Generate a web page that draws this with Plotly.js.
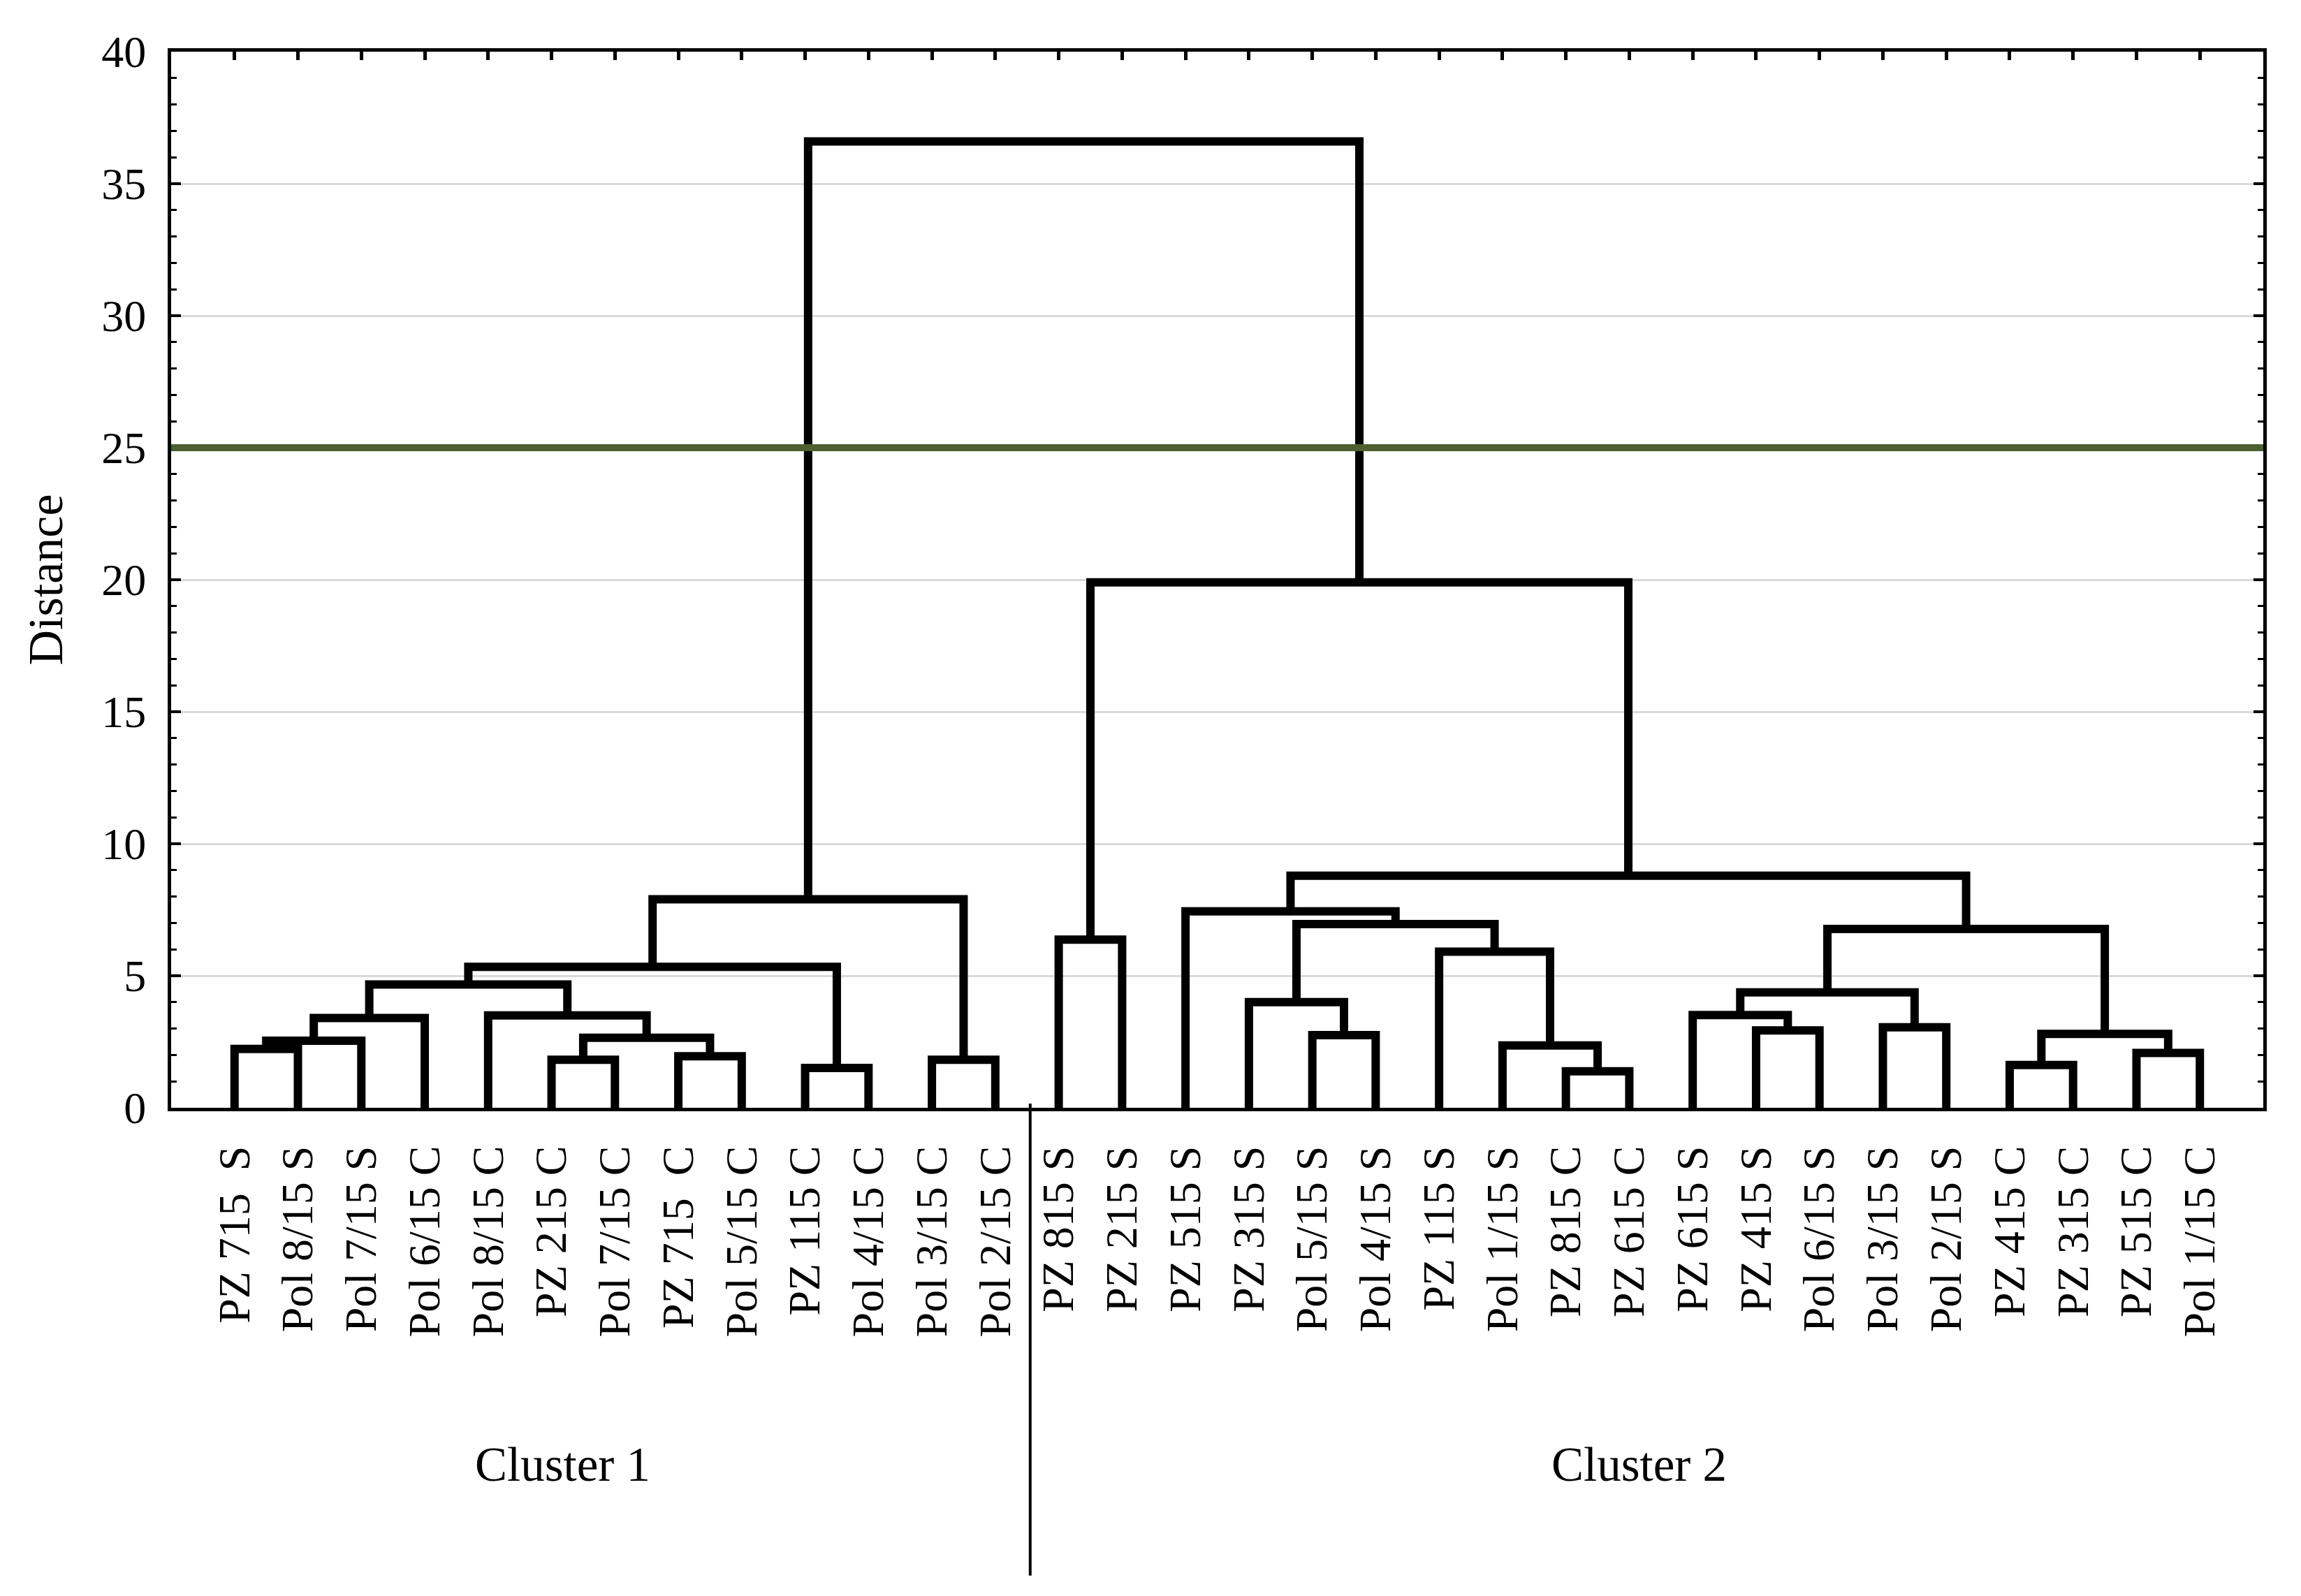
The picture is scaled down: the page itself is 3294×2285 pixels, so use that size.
<!DOCTYPE html>
<html>
<head>
<meta charset="utf-8">
<script src="https://cdn.plot.ly/plotly-3.0.1.min.js"></script>
<style>html,body{margin:0;padding:0;background:#fff;}#chart{width:3294px;height:2285px;}</style>
</head>
<body>
<div id="chart"></div>
<script>
// Leaf labels in dendrogram order (left to right)
const leafLabels = [
  "PZ 715\u00A0 S", "Pol 8/15 S", "Pol 7/15 S", "Pol 6/15 C", "Pol 8/15 C", "PZ 215 C",
  "Pol 7/15 C", "PZ 715\u00A0 C", "Pol 5/15 C", "PZ 115 C", "Pol 4/15 C", "Pol 3/15 C",
  "Pol 2/15 C", "PZ 815 S", "PZ 215 S", "PZ 515 S", "PZ 315 S", "Pol 5/15 S",
  "Pol 4/15 S", "PZ 115 S", "Pol 1/15 S", "PZ 815 C", "PZ 615 C", "PZ 615 S",
  "PZ 415 S", "Pol 6/15 S", "Pol 3/15 S", "Pol 2/15 S", "PZ 415 C", "PZ 315 C",
  "PZ 515 C", "Pol 1/15 C"
];
// Merges: node ids 0..31 are leaves, merge k creates node 32+k
const mergeLeft   = [0, 32, 33, 5, 7, 35, 4, 34, 9, 39, 11, 41, 13, 17, 16, 21, 20, 19, 46, 15, 24, 23, 26, 53, 28, 30, 56, 55, 51, 44, 43];
const mergeRight  = [1, 2, 3, 6, 8, 36, 37, 38, 10, 40, 12, 42, 14, 18, 45, 22, 47, 48, 49, 50, 25, 52, 27, 54, 29, 31, 57, 58, 59, 60, 61];
const mergeHeight = [2.23, 2.54, 3.40, 1.82, 1.95, 2.65, 3.50, 4.67, 1.51, 5.34, 1.82, 7.90, 6.37, 2.75, 4.00, 1.38, 2.36, 5.91, 6.96, 7.44, 2.93, 3.51, 3.05, 4.37, 1.62, 2.08, 2.80, 6.77, 8.79, 19.9, 36.6];
const cutHeight = 25;
const clusterNames = ["Cluster 1", "Cluster 2"];
const clusterLeafRanges = [[1, 13], [14, 32]];

// Build node positions (leaves at 1..N, merges at midpoint of children)
const N = leafLabels.length;
const nodeX = [], nodeY = [];
for (let i = 0; i < N; i++) { nodeX.push(i + 1); nodeY.push(0); }
const lx = [], ly = [];
for (let k = 0; k < mergeHeight.length; k++) {
  const a = mergeLeft[k], b = mergeRight[k], h = mergeHeight[k];
  lx.push(nodeX[a], nodeX[a], nodeX[b], nodeX[b], null);
  ly.push(nodeY[a], h, h, nodeY[b], null);
  nodeX.push((nodeX[a] + nodeX[b]) / 2);
  nodeY.push(h);
}

const serif = "Liberation Serif, 'Times New Roman', serif";
const tickVals = leafLabels.map((_, i) => i + 1);

const trace = {
  x: lx, y: ly, type: 'scatter', mode: 'lines',
  line: {color: '#000', width: 12},
  connectgaps: false, hoverinfo: 'skip', showlegend: false
};

// divider between the clusters: halfway between last leaf of cluster 1 and first of cluster 2 (slightly right)
const dividerX = (clusterLeafRanges[0][1] + clusterLeafRanges[1][0]) / 2 + 0.05;

const layout = {
  width: 3294, height: 2285,
  margin: {l: 245, r: 54, t: 74, b: 699},
  paper_bgcolor: '#fff', plot_bgcolor: '#fff',
  font: {family: serif, color: '#000', size: 64},
  xaxis: {
    range: [0, N + 1], tickmode: 'array', tickvals: tickVals, ticktext: leafLabels,
    tickangle: -90, ticks: 'inside', ticklen: 12, tickwidth: 5, tickcolor: '#000',
    showline: true, linecolor: '#000', linewidth: 5, mirror: 'ticks',
    showgrid: false, zeroline: false, ticklabelstandoff: 24,
    tickfont: {family: serif, size: 64, color: '#000'}
  },
  yaxis: {
    range: [0, 40], dtick: 5, tick0: 0, ticks: 'inside', ticklen: 14, tickwidth: 4, tickcolor: '#000',
    minor: {dtick: 1, ticks: 'inside', ticklen: 8, tickwidth: 3, tickcolor: '#000', showgrid: false},
    showline: true, linecolor: '#000', linewidth: 5, mirror: 'ticks',
    showgrid: true, gridcolor: '#d9d9d9', gridwidth: 3, zeroline: false,
    ticklabelstandoff: 18,
    tickfont: {family: serif, size: 64, color: '#000'},
    title: {text: 'Distance', font: {family: serif, size: 70, color: '#000'}, standoff: 34}
  },
  shapes: [
    {type: 'line', xref: 'paper', yref: 'y', x0: 0, x1: 1, y0: cutHeight, y1: cutHeight,
     line: {color: '#4e5f30', width: 10}, layer: 'above'},
    {type: 'line', xref: 'x', yref: 'paper', x0: dividerX, x1: dividerX, y0: 0.004, y1: -0.443,
     line: {color: '#000', width: 4}}
  ],
  annotations: [
    {text: clusterNames[0], xref: 'x', yref: 'paper', x: 6.18, y: -0.338, showarrow: false,
     xanchor: 'center', yanchor: 'middle', font: {family: serif, size: 69, color: '#000'}},
    {text: clusterNames[1], xref: 'x', yref: 'paper', x: 23.15, y: -0.338, showarrow: false,
     xanchor: 'center', yanchor: 'middle', font: {family: serif, size: 69, color: '#000'}}
  ]
};

Plotly.newPlot('chart', [trace], layout, {staticPlot: true, displayModeBar: false});
</script>
</body>
</html>
